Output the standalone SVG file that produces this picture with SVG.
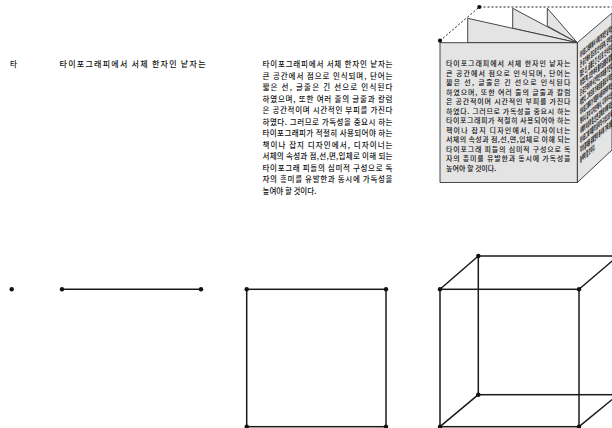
<svg xmlns="http://www.w3.org/2000/svg" width="612" height="428" viewBox="0 0 612 428">
  <defs>
    <style>
      .kr { font-family: "Noto Sans CJK KR", "Noto Sans", sans-serif; fill: #111; font-weight: 500; }
      .para { font-size: 7.5px; }
      .boxp { font-size: 7px; }
      .edge { stroke: #1a1a1a; stroke-width: 1.5; fill: none; stroke-linecap: round; }
      .dot { fill: #111; }
      .sheet { fill: #e4e4e4; stroke: #333; stroke-width: 0.9; stroke-linejoin: round; }
      .dash { stroke: #222; stroke-width: 1; stroke-dasharray: 2 2; fill: none; }
    </style>
    <clipPath id="sideClip">
      <polygon points="577.3,42.7 612,13 612,150 577.3,182.5"/>
    </clipPath>
  </defs>

  <!-- Row 1: a single glyph, a line of text, a paragraph, a folded page -->
  <g id="glyph">
    <text class="kr" x="10" y="67" font-size="7.5">타</text>
  </g>

  <g id="line-of-text">
    <text class="kr" x="59.5" y="67" font-size="8" textLength="146" lengthAdjust="spacing">타이포그래피에서 서체 한자인 낱자는</text>
  </g>

  <g id="paragraph" class="kr para">
    <text x="262.5" y="67" textLength="130" lengthAdjust="spacing">타이포그래피에서 서체 한자인 낱자는</text>
    <text x="262.5" y="78.5" textLength="130" lengthAdjust="spacing">큰 공간에서 점으로 인식되며, 단어는</text>
    <text x="262.5" y="90" textLength="130" lengthAdjust="spacing">짧은 선, 글줄은 긴 선으로 인식된다</text>
    <text x="262.5" y="101.5" textLength="130" lengthAdjust="spacing">하였으며, 또한 여러 줄의 글줄과 칼럼</text>
    <text x="262.5" y="113" textLength="130" lengthAdjust="spacing">은 공간적이며 시간적인 부피를 가진다</text>
    <text x="262.5" y="124.5" textLength="130" lengthAdjust="spacing">하였다. 그러므로 가독성을 중요시 하는</text>
    <text x="262.5" y="136" textLength="130" lengthAdjust="spacing">타이포그래피가 적절히 사용되어야 하는</text>
    <text x="262.5" y="147.5" textLength="130" lengthAdjust="spacing">책이나 잡지 디자인에서, 디자이너는</text>
    <text x="262.5" y="159" textLength="130" lengthAdjust="spacing">서체의 속성과 점,선,면,입체로 이해 되는</text>
    <text x="262.5" y="170.5" textLength="130" lengthAdjust="spacing">타이포그래 피들의 심미적 구성으로 독</text>
    <text x="262.5" y="182" textLength="130" lengthAdjust="spacing">자의 흥미를 유발한과 동시에 가독성을</text>
    <text x="262.5" y="193.5">높여야 할 것이다.</text>
  </g>

  <g id="folded-page">
    <!-- guide of the fold -->
    <polyline class="dash" points="440,40.7 479.3,7 612,7"/>
    <!-- pages fanning from the spine -->
    <polygon class="sheet" points="547.3,26 547.3,8.3 577.3,42.7"/>
    <polygon class="sheet" points="512.7,28.3 512.7,8.3 577.3,42.7"/>
    <polygon class="sheet" points="467.7,42.7 467.7,18.3 577.3,42.7"/>
    <!-- side face with foreshortened lines -->
    <polygon class="sheet" points="577.3,42.7 612,13 612,150 577.3,182.5"/>
    <g clip-path="url(#sideClip)">
      <g class="kr" font-size="8" style="font-weight:900" transform="matrix(0.26,-0.22,0,1,580,0)">
        <text x="0" y="58" textLength="124">타이포그래피에서 서체 한자인 낱자는</text>
        <text x="0" y="67.5" textLength="124">큰 공간에서 점으로 인식되며, 단어는</text>
        <text x="0" y="77" textLength="124">짧은 선, 글줄은 긴 선으로 인식된다</text>
        <text x="0" y="86.5" textLength="124">하였으며, 또한 여러 줄의 글줄과 칼럼</text>
        <text x="0" y="96" textLength="124">은 공간적이며 시간적인 부피를 가진다</text>
        <text x="0" y="105.5" textLength="124">하였다. 그러므로 가독성을 중요시 하는</text>
        <text x="0" y="115" textLength="124">타이포그래피가 적절히 사용되어야 하는</text>
        <text x="0" y="124.5" textLength="124">책이나 잡지 디자인에서, 디자이너는</text>
        <text x="0" y="134" textLength="124">서체의 속성과 점,선,면,입체로 이해 되는</text>
        <text x="0" y="143.5" textLength="124">타이포그래 피들의 심미적 구성으로 독</text>
        <text x="0" y="153" textLength="124">자의 흥미를 유발한과 동시에 가독성을</text>
        <text x="0" y="162.5">높여야 할 것이다.</text>
      </g>
    </g>
    <!-- front face -->
    <rect class="sheet" x="440" y="42.7" width="137.3" height="139.8" stroke-width="1.1"/>
    <g class="kr boxp">
      <text x="446" y="66" textLength="124.5" lengthAdjust="spacing">타이포그래피에서 서체 한자인 낱자는</text>
      <text x="446" y="75.5" textLength="124.5" lengthAdjust="spacing">큰 공간에서 점으로 인식되며, 단어는</text>
      <text x="446" y="85" textLength="124.5" lengthAdjust="spacing">짧은 선, 글줄은 긴 선으로 인식된다</text>
      <text x="446" y="94.5" textLength="124.5" lengthAdjust="spacing">하였으며, 또한 여러 줄의 글줄과 칼럼</text>
      <text x="446" y="104" textLength="124.5" lengthAdjust="spacing">은 공간적이며 시간적인 부피를 가진다</text>
      <text x="446" y="113.5" textLength="124.5" lengthAdjust="spacing">하였다. 그러므로 가독성을 중요시 하는</text>
      <text x="446" y="123" textLength="124.5" lengthAdjust="spacing">타이포그래피가 적절히 사용되어야 하는</text>
      <text x="446" y="132.5" textLength="124.5" lengthAdjust="spacing">책이나 잡지 디자인에서, 디자이너는</text>
      <text x="446" y="142" textLength="124.5" lengthAdjust="spacing">서체의 속성과 점,선,면,입체로 이해 되는</text>
      <text x="446" y="151.5" textLength="124.5" lengthAdjust="spacing">타이포그래 피들의 심미적 구성으로 독</text>
      <text x="446" y="161" textLength="124.5" lengthAdjust="spacing">자의 흥미를 유발한과 동시에 가독성을</text>
      <text x="446" y="170.5">높여야 할 것이다.</text>
    </g>
    <circle class="dot" cx="440" cy="40.7" r="2.1"/>
    <circle class="dot" cx="479.3" cy="7" r="2.1"/>
  </g>

  <!-- Row 2: point, line, plane, solid -->
  <g id="point">
    <circle class="dot" cx="11.7" cy="289.3" r="2.2"/>
  </g>

  <g id="segment">
    <line class="edge" x1="62" y1="289.3" x2="201" y2="289.3"/>
    <circle class="dot" cx="62" cy="289.3" r="2.2"/>
    <circle class="dot" cx="201" cy="289.3" r="2.2"/>
  </g>

  <g id="square">
    <rect class="edge" x="246.7" y="289.3" width="139.3" height="137.4"/>
    <circle class="dot" cx="246.7" cy="289.3" r="2.2"/>
    <circle class="dot" cx="386" cy="289.3" r="2.2"/>
    <circle class="dot" cx="246.7" cy="426.7" r="2.2"/>
    <circle class="dot" cx="386" cy="426.7" r="2.2"/>
  </g>

  <g id="cube">
    <!-- rear face -->
    <rect class="edge" x="478.3" y="256" width="139.7" height="138.7"/>
    <!-- front face -->
    <rect class="edge" x="440" y="289.3" width="139" height="137.4"/>
    <!-- receding edges -->
    <line class="edge" x1="440" y1="289.3" x2="478.3" y2="256"/>
    <line class="edge" x1="579" y1="289.3" x2="618" y2="256"/>
    <line class="edge" x1="440" y1="426.7" x2="478.3" y2="394.7"/>
    <line class="edge" x1="579" y1="426.7" x2="618" y2="394.7"/>
    <circle class="dot" cx="440" cy="289.3" r="2.2"/>
    <circle class="dot" cx="478.3" cy="256" r="2.2"/>
    <circle class="dot" cx="579" cy="289.3" r="2.2"/>
    <circle class="dot" cx="478.3" cy="394.7" r="2.2"/>
    <circle class="dot" cx="440" cy="426.7" r="2.2"/>
    <circle class="dot" cx="579" cy="426.7" r="2.2"/>
  </g>
</svg>
